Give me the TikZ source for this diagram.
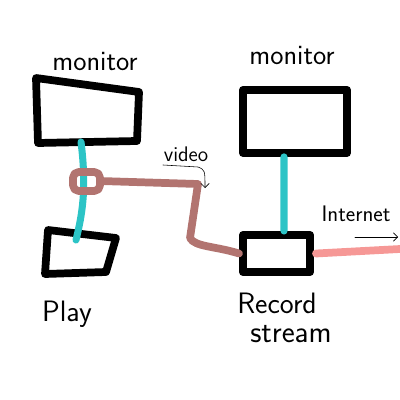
\documentclass[tikz,border=0pt]{standalone}
\usetikzlibrary{calc,arrows.meta}

\definecolor{cablecyan}{RGB}{44,196,198}
\definecolor{videobrown}{RGB}{178,116,112}
\definecolor{netpink}{RGB}{246,152,150}

\begin{document}
\begin{tikzpicture}[x=0.025cm, y=-0.025cm, line cap=round, line join=round,
    box/.style={draw=black, line width=5.5pt},
    cable/.style={cablecyan, line width=5pt},
    video/.style={videobrown, line width=5.5pt},
    net/.style={netpink, line width=5.5pt},
    hand/.style={font=\sffamily\fontsize{20}{22}\selectfont, inner sep=1pt}]
  \useasboundingbox (0,0) rectangle (400,400);

  % left monitor and play box (skewed, drawn by hand)
  \coordinate (m1a) at (36,78);
  \coordinate (m1b) at (139,92);
  \coordinate (m1c) at (137,141);
  \coordinate (m1d) at (38,143);
  \draw[box] (m1a) -- (m1b) -- (m1c) -- (m1d) -- cycle;
  \node[hand] (lbl1) at (95,62) {monitor};

  \coordinate (p1) at (48,230);
  \coordinate (p2) at (116,238);
  \coordinate (p3) at (106,272);
  \coordinate (p4) at (45,274);
  \draw[box] (p1) -- (p2) -- (p3) -- (p4) -- cycle;
  \node[hand, font=\sffamily\fontsize{21}{23}\selectfont] (play) at (67,314) {Play};

  % right monitor and recorder
  \node[box, inner sep=0pt, minimum width=2.6cm, minimum height=1.575cm] (mon2) at (295,121.5) {};
  \node[hand] (lbl2) at (292,56) {monitor};

  \node[box, inner sep=0pt, minimum width=1.68cm, minimum height=0.93cm] (rec) at (276.5,253.5) {};
  \node[hand, font=\sffamily\fontsize{21}{23}\selectfont] (rec1) at (277,303) {Record};
  \node[hand, font=\sffamily\fontsize{22}{24}\selectfont] (rec2) at (291,334) {stream};

  % cables
  \coordinate (c1top) at (81,142);
  \coordinate (c1bot) at (76,240);
  \draw[cable] (c1top) .. controls (87,190) and (82,215) .. (c1bot);
  \draw[cable] ($(mon2.south)+(-11,0)$) -- ($(rec.north)+(7.5,0)$);

  % video line with loop round the left cable
  \draw[video, rounded corners=4pt] (73,172) rectangle (100,191);
  \coordinate (v1) at (198,184);
  \coordinate (v2) at (190,238);
  \draw[video] (100,181) -- (v1) -- (v2) .. controls (195,247) and (215,246) .. (rec.west);
  \node[font=\sffamily\fontsize{15}{17}\selectfont, inner sep=0pt] (vlbl) at (186,154) {video};
  \draw[thin, -{Straight Barb[length=3pt]}] (163,165) -- (198,167) .. controls (205,170) .. (205,188);

  % internet out
  \draw[net] ($(rec.east)+(2,0)$) -- (400,249);
  \node[font=\sffamily\fontsize{16}{18}\selectfont, inner sep=0pt] (inet) at (356,214) {Internet};
  \draw[thin, -{Straight Barb[length=3pt]}] (355,237) -- (398,237);
\end{tikzpicture}
\end{document}
